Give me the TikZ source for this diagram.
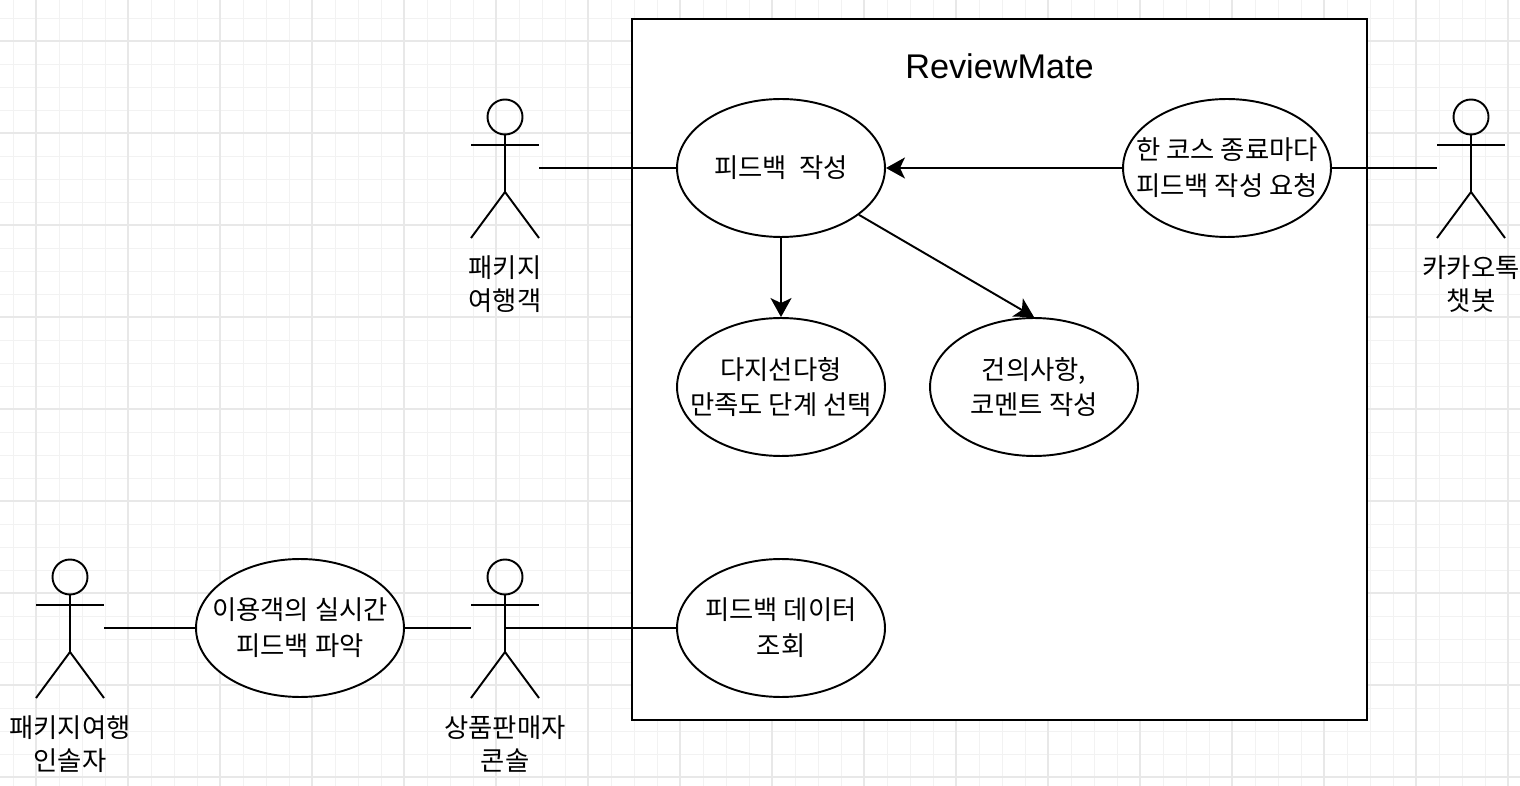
\documentclass[tikz,border=0pt]{standalone}
\usepackage{fontspec}
\setmainfont{Noto Sans CJK KR}
\newfontfamily\titlefont{Liberation Sans}
\usetikzlibrary{shapes.geometric, arrows.meta, positioning}

\begin{document}
\begin{tikzpicture}[
  x=0.02cm, y=-0.02cm,
  usecase/.style = {ellipse, draw=black, fill=white, line width=1.1pt,
                    minimum width=4.16cm, minimum height=2.76cm, inner sep=-0.6cm,
                    font=\fontsize{15pt}{20.4pt}\selectfont, align=center},
  actor/.style   = {rectangle, minimum width=1.36cm, minimum height=2.76cm,
                    inner sep=0pt},
  actorlbl/.style= {font=\fontsize{15pt}{18.7pt}\selectfont, align=center,
                    inner sep=0pt},
  link/.style    = {line width=1.1pt},
  arr/.style     = {-{Stealth[length=0.38cm, width=0.42cm, inset=0.1cm]}, line width=1.1pt},
  gridminor/.style = {black!5, line width=0.5pt},
  gridmajor/.style = {black!9, line width=0.7pt},
  stickman/.pic = {
    \draw[link] (0,-51) circle [radius=17.5];
    \draw[link] (0,-33.5) -- (0,24);
    \draw[link] (-34,-23) -- (34,-23);
    \draw[link] (-34,70) -- (0,24) -- (34,70);
  }
]
\useasboundingbox (0,0) rectangle (1520,786);
\fill[white] (0,0) rectangle (1520,786);

% ===================== GRID =====================
\foreach \x in {13,36,...,1520} \draw[gridminor] (\x,0) -- (\x,786);
\foreach \y in {18,41,...,786}  \draw[gridminor] (0,\y) -- (1520,\y);
\foreach \x in {36,128,...,1520} \draw[gridmajor] (\x,0) -- (\x,786);
\foreach \y in {41,133,...,786}  \draw[gridmajor] (0,\y) -- (1520,\y);

% ===================== SYSTEM BOX =====================
\node[draw=black, fill=white, line width=1.1pt, minimum width=14.7cm,
      minimum height=14.02cm, inner sep=0pt]
  (system) at (999.5,369.5) {};
\node[font=\titlefont\fontsize{19.5pt}{23pt}\selectfont, anchor=center]
  (title) at (999.5,66) {ReviewMate};

% ===================== USE CASES =====================
\node[usecase] (write)    at (781,168)  {피드백 \ 작성};
\node[usecase] (request)  at (1227,168) {한 코스 종료마다\\피드백 작성 요청};
\node[usecase] (choice)   at (781,387)  {다지선다형\\만족도 단계 선택};
\node[usecase] (comment)  at (1034,387) {건의사항,\\코멘트 작성};
\node[usecase] (query)    at (781,628)  {피드백 데이터\\조회};
\node[usecase] (realtime) at (300,628)  {이용객의 실시간\\피드백 파악};

% ===================== ACTORS =====================
\node[actor] (traveler) at (505,168)  {};
\pic at (traveler) {stickman};
\node[actorlbl, below=0.36cm of traveler] (travelerlbl) {패키지\\여행객};

\node[actor] (chatbot) at (1471,168)  {};
\pic at (chatbot) {stickman};
\node[actorlbl, below=0.36cm of chatbot] (chatbotlbl) {카카오톡\\챗봇};

\node[actor] (agency) at (70,628)     {};
\pic at (agency) {stickman};
\node[actorlbl, below=0.36cm of agency] (agencylbl) {패키지여행\\인솔자};

\node[actor] (seller) at (505,628)    {};
\pic at (seller) {stickman};
\node[actorlbl, below=0.36cm of seller] (sellerlbl) {상품판매자\\콘솔};

% ===================== CONNECTORS =====================
\draw[link] (traveler.east) -- (write.west);
\draw[link] (request.east)  -- (chatbot.west);
\draw[link] (agency.east)   -- (realtime.west);
\draw[link] (realtime.east) -- (seller.west);
\draw[link] (seller.center) -- (query.west);

\draw[arr] (request.west) -- (write.east);
\draw[arr] (write.south)  -- (choice.north);
\draw[arr] (write.-31)    -- (comment.north);

\end{tikzpicture}
\end{document}
